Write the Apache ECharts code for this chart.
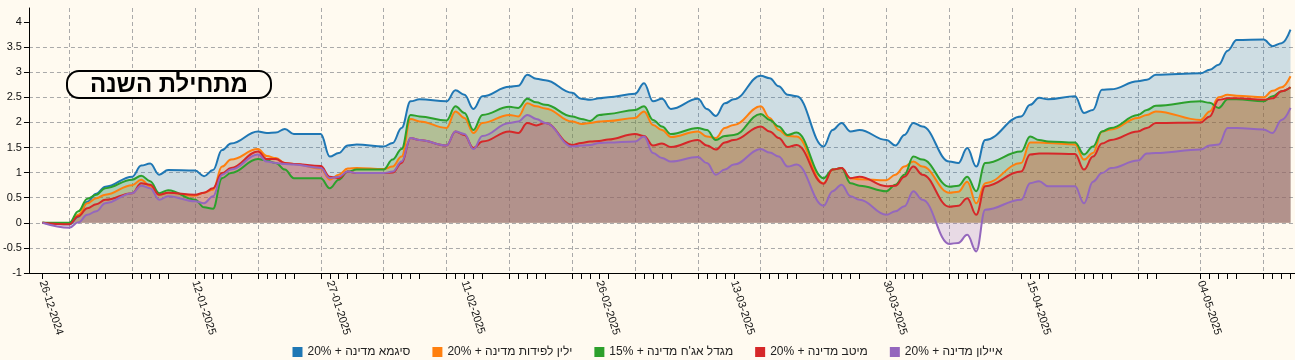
<!DOCTYPE html>
<html>
<head>
<meta charset="utf-8">
<script src="https://cdn.jsdelivr.net/npm/echarts@6.0.0/dist/echarts.min.js"></script>
<style>
html,body{margin:0;padding:0;background:#FFFAF0;}
#chart{width:1295px;height:360px;}
</style>
</head>
<body>
<div id="chart"></div>
<script>
// ---- data ----
const axisStart = '25-12-2024';
const axisEnd = '14-05-2025';
const tradingDays = ['26-12-2024','29-12-2024','30-12-2024','31-12-2024','01-01-2025','02-01-2025','05-01-2025','06-01-2025','07-01-2025','08-01-2025','09-01-2025','12-01-2025','13-01-2025','14-01-2025','15-01-2025','16-01-2025','19-01-2025','20-01-2025','21-01-2025','22-01-2025','23-01-2025','26-01-2025','27-01-2025','28-01-2025','29-01-2025','30-01-2025','02-02-2025','03-02-2025','04-02-2025','05-02-2025','06-02-2025','09-02-2025','10-02-2025','11-02-2025','12-02-2025','13-02-2025','16-02-2025','17-02-2025','18-02-2025','19-02-2025','20-02-2025','23-02-2025','24-02-2025','25-02-2025','26-02-2025','27-02-2025','02-03-2025','03-03-2025','04-03-2025','05-03-2025','06-03-2025','09-03-2025','10-03-2025','11-03-2025','12-03-2025','13-03-2025','16-03-2025','17-03-2025','18-03-2025','19-03-2025','20-03-2025','23-03-2025','24-03-2025','25-03-2025','26-03-2025','27-03-2025','30-03-2025','31-03-2025','01-04-2025','02-04-2025','03-04-2025','06-04-2025','07-04-2025','08-04-2025','09-04-2025','10-04-2025','14-04-2025','15-04-2025','16-04-2025','17-04-2025','20-04-2025','21-04-2025','22-04-2025','23-04-2025','24-04-2025','27-04-2025','28-04-2025','29-04-2025','04-05-2025','05-05-2025','06-05-2025','07-05-2025','08-05-2025','11-05-2025','12-05-2025','13-05-2025','14-05-2025'];
const labelDays = ['26-12-2024','12-01-2025','27-01-2025','11-02-2025','26-02-2025','13-03-2025','30-03-2025','15-04-2025','04-05-2025'];
const yTicks = [-1,-0.5,0,0.5,1,1.5,2,2.5,3,3.5,4];

const names = ['סיגמא מדינה + 20%','ילין לפידות מדינה + 20%',"מגדל אג'ח מדינה + 15%",'מיטב מדינה + 20%','איילון מדינה + 20%'];

const sigma = [0,-0.03,0.12,0.42,0.58,0.72,0.92,1.14,1.18,0.96,
1.05,1.04,0.93,1.05,1.45,1.58,1.82,1.79,1.8,1.87,
1.77,1.77,1.32,1.39,1.54,1.56,1.52,1.59,1.89,2.42,
2.46,2.42,2.64,2.55,2.27,2.52,2.71,2.73,2.95,2.87,
2.84,2.59,2.47,2.45,2.48,2.5,2.57,2.78,2.42,2.47,
2.27,2.47,2.27,2.13,2.38,2.46,2.93,2.88,2.72,2.55,
2.52,1.52,1.85,1.99,1.82,1.85,1.65,1.54,1.75,1.99,
1.92,1.22,1.19,1.49,1.12,1.65,2.12,2.35,2.49,2.46,
2.52,2.19,2.25,2.65,2.66,2.82,2.85,2.95,2.98,3.05,
3.15,3.43,3.64,3.65,3.52,3.58,3.85];

const yelin = [0,-0.02,0.16,0.39,0.49,0.56,0.75,0.86,0.73,0.56,
0.6,0.54,0.6,0.66,1.12,1.26,1.47,1.33,1.29,1.19,
1.17,1.08,0.86,0.96,1.08,1.09,1.07,1.12,1.32,2.07,
2.02,1.89,2.22,2.09,1.79,1.99,2.15,2.12,2.38,2.32,
2.28,2.02,1.97,1.99,2.02,2.03,2.09,2.22,1.95,1.85,
1.71,1.82,1.72,1.69,1.89,1.95,2.32,2.09,1.85,1.73,
1.72,0.79,1.06,1.09,0.89,0.87,0.85,0.96,1.12,1.22,
1.12,0.6,0.62,0.82,0.39,0.79,1.19,1.6,1.6,1.59,
1.56,1.26,1.39,1.82,1.86,2.09,2.15,2.22,2.05,2.22,
2.5,2.55,2.53,2.5,2.63,2.7,2.92];

const migdal = [0,0,0.23,0.48,0.56,0.69,0.86,0.94,0.83,0.59,
0.65,0.46,0.31,0.28,0.89,0.99,1.27,1.24,1.19,1.06,
0.89,0.89,0.69,0.86,1.02,1.06,1.06,1.26,1.47,2.15,
2.12,2.04,2.32,2.19,1.85,2.15,2.31,2.29,2.47,2.4,
2.35,2.12,2.07,2.03,2.15,2.17,2.25,2.32,2.05,1.92,
1.77,1.89,1.85,1.65,1.73,1.75,2.17,2.05,1.92,1.75,
1.8,0.89,1.06,1.09,0.79,0.74,0.63,0.76,0.96,1.32,
1.26,0.72,0.74,0.92,0.63,1.19,1.42,1.72,1.65,1.62,
1.6,1.36,1.52,1.82,1.89,2.15,2.25,2.33,2.42,2.39,
2.29,2.46,2.46,2.42,2.52,2.62,2.7];

const meitav = [0,-0.03,0.13,0.29,0.37,0.46,0.59,0.79,0.76,0.56,
0.6,0.56,0.6,0.69,0.99,1.09,1.42,1.27,1.27,1.19,
1.17,1.13,0.92,0.89,1.02,0.99,0.99,1.0,1.19,1.69,
1.65,1.54,1.82,1.75,1.49,1.62,1.82,1.79,1.99,1.94,
1.99,1.55,1.59,1.62,1.63,1.66,1.77,1.73,1.54,1.58,
1.51,1.65,1.54,1.46,1.6,1.65,1.92,1.82,1.69,1.51,
1.55,0.78,1.06,1.09,0.89,0.92,0.73,0.74,0.92,1.12,
0.96,0.32,0.34,0.49,0.16,0.73,1.02,1.36,1.38,1.38,
1.37,1.06,1.32,1.58,1.65,1.82,1.89,1.99,2.0,2.12,
2.45,2.48,2.48,2.45,2.48,2.62,2.7];

const ayalon = [0,-0.1,0.01,0.16,0.23,0.39,0.59,0.74,0.69,0.46,
0.53,0.43,0.39,0.53,0.96,1.06,1.36,1.22,1.19,1.17,
1.16,1.09,0.89,0.92,1.02,0.99,0.99,1.02,1.22,1.69,
1.65,1.54,1.82,1.77,1.47,1.73,1.99,2.02,2.15,2.07,
1.99,1.52,1.54,1.55,1.59,1.6,1.62,1.72,1.39,1.29,
1.22,1.31,1.19,0.96,1.06,1.16,1.47,1.4,1.32,1.12,
1.16,0.34,0.63,0.76,0.53,0.46,0.16,0.23,0.33,0.63,
0.46,-0.42,-0.4,-0.24,-0.57,0.26,0.46,0.79,0.83,0.73,
0.73,0.39,0.82,0.99,1.09,1.24,1.38,1.39,1.46,1.54,
1.56,1.89,1.89,1.86,1.79,2.05,2.29];

const seriesValues = [sigma, yelin, migdal, meitav, ayalon];
const colors = ['#1f77b4','#ff7f0e','#2ca02c','#d62728','#9467bd'];

// ---- helpers ----
function parseD(s){const p=s.split('-');return Date.UTC(+p[2],+p[1]-1,+p[0]);}
function fmtD(t){const d=new Date(t);const dd=String(d.getUTCDate()).padStart(2,'0');const mm=String(d.getUTCMonth()+1).padStart(2,'0');return dd+'-'+mm+'-'+d.getUTCFullYear();}
const categories=[];
for(let t=parseD(axisStart);t<=parseD(axisEnd);t+=86400000){categories.push(fmtD(t));}
const tradeSet=new Set(tradingDays);
const labelSet=new Set(labelDays);
function isSunday(s){return new Date(parseD(s)).getUTCDay()===0;}

const series = seriesValues.map((vals,i)=>{
  const map={};tradingDays.forEach((d,j)=>{map[d]=vals[j];});
  return {
    name:names[i], type:'line', data:categories.map(c=>(c in map)?map[c]:null),
    connectNulls:true, smooth:0.4, smoothMonotone:'x', showSymbol:false, symbol:'none',
    lineStyle:{width:2,color:colors[i]}, itemStyle:{color:colors[i]},
    areaStyle:{color:colors[i],opacity:0.22},
    emphasis:{disabled:true}, animation:false
  };
});

const chart=echarts.init(document.getElementById('chart'),null,{renderer:'canvas'});
chart.setOption({
  backgroundColor:'#FFFAF0',
  animation:false,
  color:colors,
  textStyle:{fontFamily:'"Liberation Sans", Arial, sans-serif'},
  title:{
    text:'מתחילת השנה', left:67, top:71,
    padding:[2,23,1,23],
    backgroundColor:'#FFFAF0', borderColor:'#000', borderWidth:2, borderRadius:12,
    textStyle:{fontSize:24,fontWeight:'bold',color:'#000',fontFamily:'"Liberation Sans", Arial, sans-serif'}
  },
  legend:{
    data:names, top:341, left:'center', itemWidth:10, itemHeight:10, itemGap:22,
    icon:'rect', selectedMode:false,
    textStyle:{fontSize:12,color:'#222',fontFamily:'"Liberation Sans", Arial, sans-serif'}
  },
  grid:{left:28, right:-4, top:8, bottom:87, containLabel:false},
  xAxis:{
    type:'category', data:categories, boundaryGap:true,
    axisLine:{onZero:false,lineStyle:{color:'#000',width:1}},
    axisTick:{show:true,alignWithLabel:true,length:6,interval:(i,v)=>tradeSet.has(v),lineStyle:{color:'#000'}},
    axisLabel:{interval:(i,v)=>labelSet.has(v),rotate:-72,fontSize:11,color:'#111',margin:8,
      fontFamily:'"Liberation Sans", Arial, sans-serif'},
    splitLine:{show:true,alignWithLabel:true,interval:(i,v)=>isSunday(v),lineStyle:{type:[4,3],color:'#aaa',width:1}}
  },
  yAxis:{
    type:'value', min:-1, max:4.28, interval:0.5,
    axisLine:{show:true,lineStyle:{color:'#000',width:1}},
    axisTick:{show:true,length:5,customValues:yTicks,lineStyle:{color:'#000'}},
    axisLabel:{customValues:yTicks,fontSize:11,color:'#111',margin:7,
      fontFamily:'"Liberation Sans", Arial, sans-serif'},
    splitLine:{show:true,showMaxLine:false,lineStyle:{type:[4,3],color:'#aaa',width:1}}
  },
  series:series
});
</script>
</body>
</html>
